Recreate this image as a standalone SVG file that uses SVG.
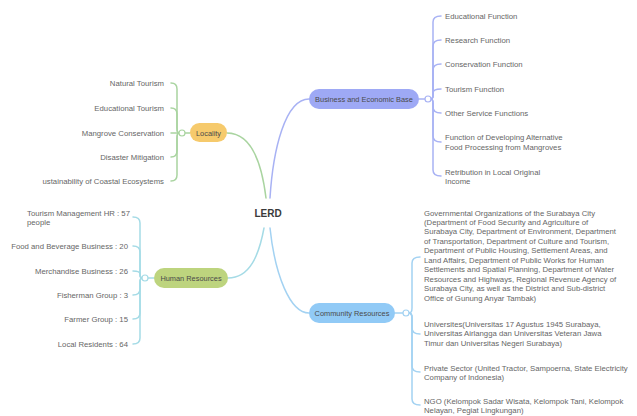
<svg xmlns="http://www.w3.org/2000/svg" width="637" height="416" viewBox="0 0 637 416">
<style>
.t{font-family:"Liberation Sans",Arial,sans-serif;font-size:7.75px;fill:#666666}
.n{font-family:"Liberation Sans",Arial,sans-serif;font-size:7.4px;fill:#4a4a4a;text-anchor:middle}
.r{text-anchor:end}
.c{fill:none;stroke-width:1.5;stroke-linecap:round}
.g{stroke:#a9d4a0}
.b{stroke:#a8b2f4}
.h{stroke:#a5dbe6}
.k{stroke:#a3d2f2}
.dot{fill:#fff;stroke-width:1.2}
</style>
<rect width="637" height="416" fill="#fff"/>
<g id="connectors">
<path class="c g" d="M227,133 C252,133 262,165 266,198"/>
<path class="c b" d="M270,198 C273,150 285,99 309,99"/>
<path class="c h" d="M228,278 C250,278 259,255 264,228"/>
<path class="c k" d="M270,228 C275,275 290,313 309,313"/>
<path class="c g" d="M190,133 H185"/>
<path class="c g" d="M179,133 Q177,133 177,128 V89 Q177,83 171,83"/>
<path class="c g" d="M179,133 Q177,133 177,128 V114 Q177,108 171,108"/>
<path class="c g" d="M179,133 H171"/>
<path class="c g" d="M179,133 Q177,133 177,138 V151 Q177,157 171,157"/>
<path class="c g" d="M179,133 Q177,133 177,138 V175 Q177,181 171,181"/>
<path class="c b" d="M419,99 H425"/>
<path class="c b" d="M431,99 Q433,99 433,94 V22 Q433,16 441,16"/>
<path class="c b" d="M431,99 Q433,99 433,94 V46 Q433,40 441,40"/>
<path class="c b" d="M431,99 Q433,99 433,94 V70 Q433,64 441,64"/>
<path class="c b" d="M431,99 Q433,99 433,95 V93 Q433,89 441,89"/>
<path class="c b" d="M431,99 Q433,99 433,104 V107 Q433,113 441,113"/>
<path class="c b" d="M431,99 Q433,99 433,104 V136 Q433,142 441,142"/>
<path class="c b" d="M431,99 Q433,99 433,104 V170 Q433,176 441,176"/>
<path class="c h" d="M154,278 H148"/>
<path class="c h" d="M142,278 Q140,278 140,273 V223 Q140,217 133,217"/>
<path class="c h" d="M142,278 Q140,278 140,273 V252 Q140,246 133,246"/>
<path class="c h" d="M142,278 Q140,278 140,275 V274 Q140,271 133,271"/>
<path class="c h" d="M142,278 Q140,278 140,283 V289 Q140,295 133,295"/>
<path class="c h" d="M142,278 Q140,278 140,283 V313 Q140,319 133,319"/>
<path class="c h" d="M142,278 Q140,278 140,283 V338 Q140,344 133,344"/>
<path class="c k" d="M395,313 H403"/>
<path class="c k" d="M409,313 Q412,313 412,308 V263 Q412,257 420,257"/>
<path class="c k" d="M409,313 Q412,313 412,318 V328 Q412,334 420,334"/>
<path class="c k" d="M409,313 Q412,313 412,318 V366 Q412,372 420,372"/>
<path class="c k" d="M409,313 Q412,313 412,318 V399 Q412,405 420,405"/>
<circle class="dot g" cx="182" cy="133" r="3"/>
<circle class="dot b" cx="428" cy="99" r="3"/>
<circle class="dot h" cx="145" cy="278" r="3"/>
<circle class="dot k" cx="406" cy="313" r="3"/>
</g>
<g id="root"><text x="268" y="217" style="font-family:'Liberation Sans',Arial,sans-serif;font-size:10px;font-weight:bold;fill:#3a3a3a;text-anchor:middle">LERD</text></g>
<g id="locality">
<rect x="190" y="123" width="37" height="19" rx="9.5" fill="#f6ca6c"/>
<text class="n" x="208.5" y="135.5">Locality</text>
</g>
<g id="locality-children">
<text class="t r" x="164" y="85.5">Natural Tourism</text>
<text class="t r" x="164" y="110.5">Educational Tourism</text>
<text class="t r" x="164" y="135.5">Mangrove Conservation</text>
<text class="t r" x="164" y="159.5">Disaster Mitigation</text>
<text class="t r" x="164" y="183.5">ustainability of Coastal Ecosystems</text>
</g>
<g id="business">
<rect x="309" y="89" width="110" height="20" rx="10" fill="#9ea9f5"/>
<text class="n" x="364" y="101.5">Business and Economic Base</text>
</g>
<g id="business-children">
<text class="t" x="445" y="18.5">Educational Function</text>
<text class="t" x="445" y="42.5">Research Function</text>
<text class="t" x="445" y="66.5">Conservation Function</text>
<text class="t" x="445" y="91.5">Tourism Function</text>
<text class="t" x="445" y="115.5">Other Service Functions</text>
<text class="t" x="445" y="140">Function of Developing Alternative</text>
<text class="t" x="445" y="149.5">Food Processing from Mangroves</text>
<text class="t" x="445" y="174.5">Retribution in Local Original</text>
<text class="t" x="445" y="184">Income</text>
</g>
<g id="human-resources">
<rect x="154" y="268" width="74" height="20" rx="10" fill="#bdd47e"/>
<text class="n" x="191" y="280.5">Human Resources</text>
</g>
<g id="human-children">
<text class="t" x="27" y="215.5">Tourism Management HR : 57</text>
<text class="t" x="27" y="225">people</text>
<text class="t r" x="128" y="248.5">Food and Beverage Business : 20</text>
<text class="t r" x="128" y="273.5">Merchandise Business : 26</text>
<text class="t r" x="128" y="297.5">Fisherman Group : 3</text>
<text class="t r" x="128" y="321.5">Farmer Group : 15</text>
<text class="t r" x="128" y="346.5">Local Residents : 64</text>
</g>
<g id="community">
<rect x="309" y="303" width="86" height="20" rx="10" fill="#91caf6"/>
<text class="n" x="352" y="315.5">Community Resources</text>
</g>
<g id="community-children">
<text class="t" x="424" y="215.5">Governmental Organizations of the Surabaya City</text>
<text class="t" x="424" y="225">(Department of Food Security and Agriculture of</text>
<text class="t" x="424" y="234.4">Surabaya City, Department of Environment, Department</text>
<text class="t" x="424" y="243.9">of Transportation, Department of Culture and Tourism,</text>
<text class="t" x="424" y="253.3">Department of Public Housing, Settlement Areas, and</text>
<text class="t" x="424" y="262.8">Land Affairs, Department of Public Works for Human</text>
<text class="t" x="424" y="272.2">Settlements and Spatial Planning, Department of Water</text>
<text class="t" x="424" y="281.7">Resources and Highways, Regional Revenue Agency of</text>
<text class="t" x="424" y="291.1">Surabaya City, as well as the District and Sub-district</text>
<text class="t" x="424" y="300.6">Office of Gunung Anyar Tambak)</text>
<text class="t" x="424" y="326.5">Universites(Universitas 17 Agustus 1945 Surabaya,</text>
<text class="t" x="424" y="336">Universitas Airlangga dan Universitas Veteran Jawa</text>
<text class="t" x="424" y="345.5">Timur dan Universitas Negeri Surabaya)</text>
<text class="t" x="424" y="370.5">Private Sector (United Tractor, Sampoerna, State Electricity</text>
<text class="t" x="424" y="380">Company of Indonesia)</text>
<text class="t" x="424" y="403.5">NGO (Kelompok Sadar Wisata, Kelompok Tani, Kelompok</text>
<text class="t" x="424" y="413">Nelayan, Pegiat Lingkungan)</text>
</g>
</svg>
